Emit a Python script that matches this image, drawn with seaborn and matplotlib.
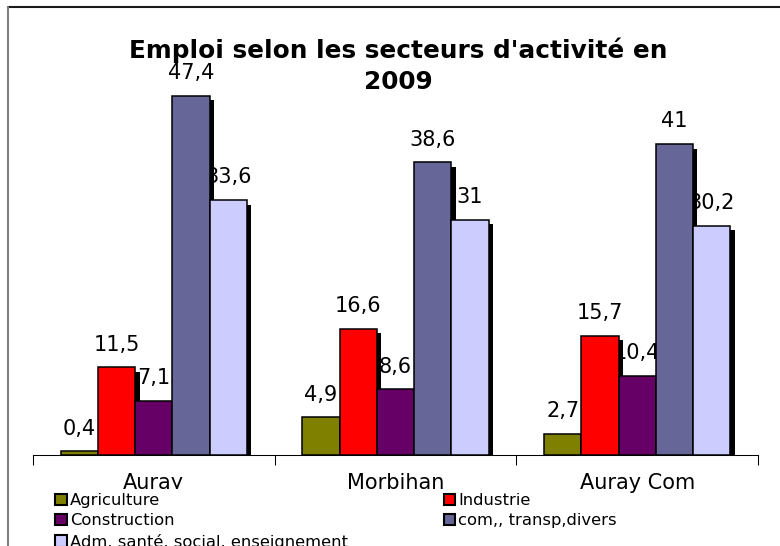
import matplotlib
matplotlib.use("Agg")
import matplotlib.pyplot as plt
import matplotlib.transforms as mtransforms
from matplotlib.patches import Rectangle, Patch
from matplotlib.lines import Line2D
import seaborn as sns
import pandas as pd

# Employment share by sector (%), 2009
zones = ["Auray", "Morbihan", "Auray Com"]
secteurs = ["Agriculture", "Industrie", "Construction",
            "com,, transp,divers", "Adm. santé, social, enseignement"]
agriculture = [0.4, 4.9, 2.7]
industrie = [11.5, 16.6, 15.7]
construction = [7.1, 8.6, 10.4]
commerce = [47.4, 38.6, 41.0]
administration = [33.6, 31.0, 30.2]
couleurs = ["#808000", "#FF0000", "#660066", "#666699", "#CCCCFF"]
titre_lignes = ["Emploi selon les secteurs d'activité en", "2009"]

series = [agriculture, industrie, construction, commerce, administration]
rows = []
for sect, vals in zip(secteurs, series):
    for z, v in zip(zones, vals):
        rows.append({"zone": z, "secteur": sect, "valeur": v})
df = pd.DataFrame(rows)


def fr(v):
    return f"{v:g}".replace(".", ",")


sns.set_style("white")
plt.rcParams["font.family"] = ["DejaVu Sans"]
plt.rcParams["text.color"] = "black"
plt.rcParams["xtick.color"] = "black"
plt.rcParams["xtick.labelcolor"] = "black"

fig = plt.figure(figsize=(7.8, 5.46), dpi=100)
W, H = 780, 546
ax = fig.add_axes([33 / W, 91.5 / H, 725 / W, 378.5 / H])

sns.barplot(data=df, x="zone", y="valeur", hue="secteur", order=zones,
            hue_order=secteurs, palette=couleurs, width=0.77, saturation=1,
            edgecolor="black", linewidth=1.1, errorbar=None, legend=False,
            ax=ax)

# drop shadow offset to the lower right of each bar
shadow_tr = ax.transData + mtransforms.ScaledTranslation(4.5 / 100, -4.5 / 100,
                                                         fig.dpi_scale_trans)
for cont in ax.containers:
    for bar in cont:
        bar.set_zorder(3)
        x, w, h = bar.get_x(), bar.get_width(), bar.get_height()
        ax.add_patch(Rectangle((x, 0), w, h, facecolor="black",
                               edgecolor="none", transform=shadow_tr, zorder=2))
        ax.annotate(fr(h), xy=(x + w / 2, h), xytext=(0, 12),
                    textcoords="offset points", ha="center", va="baseline",
                    fontsize=15, color="black", zorder=1,
                    annotation_clip=False)

ax.set_xlim(-0.5, 2.5)
ax.set_ylim(0, 50)
ax.set_yticks([])
ax.set_xlabel("")
ax.set_ylabel("")
ax.set_xticks([0, 1, 2])
ax.set_xticklabels(zones)
ax.set_xticks([-0.5, 0.5, 1.5, 2.5], minor=True)
ax.tick_params(axis="x", which="major", length=0, pad=13, labelsize=15,
               labelcolor="black")
ax.tick_params(axis="x", which="minor", length=7, width=0.75, color="black",
               direction="out", bottom=True)
for s in ["left", "top", "right"]:
    ax.spines[s].set_visible(False)
ax.spines["bottom"].set_color("black")
ax.spines["bottom"].set_linewidth(0.75)

# legend laid out row by row over two columns
handles = {s: Patch(facecolor=c, edgecolor="black", linewidth=1.5)
           for s, c in zip(secteurs, couleurs)}
order = [secteurs[0], secteurs[2], secteurs[4], secteurs[1], secteurs[3]]
leg = ax.legend([handles[s] for s in order], order, ncol=2, loc="upper left",
                bbox_to_anchor=(51 / W, 1 - 489 / H),
                bbox_transform=fig.transFigure, borderaxespad=0,
                borderpad=0.25, frameon=True, facecolor="white",
                edgecolor="none", framealpha=1, fancybox=False,
                fontsize=11.8, handlelength=0.7, handleheight=0.7,
                handletextpad=0.2, columnspacing=5.85, labelspacing=0.32,
                labelcolor="black")
leg.set_zorder(10)

# two-line centred title
for ligne, base in zip(titre_lignes, [58, 89]):
    fig.text(398 / W, 1 - base / H, ligne, ha="center", va="baseline",
             fontsize=17.8, fontweight="bold", color="black")

# chart frame edges
fig.add_artist(Line2D([8 / W, 1], [1 - 7 / H, 1 - 7 / H],
                      transform=fig.transFigure, color="#1a1a1a", lw=1.5))
fig.add_artist(Line2D([8 / W, 8 / W], [0, 1 - 7 / H],
                      transform=fig.transFigure, color="#808080", lw=1.5))

fig.savefig("out.png", dpi=100)
